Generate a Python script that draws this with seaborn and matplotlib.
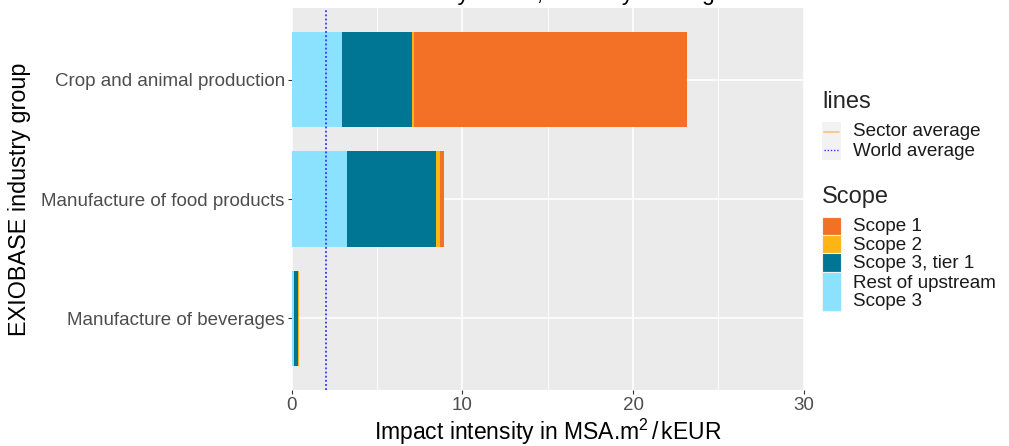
import matplotlib
matplotlib.use("Agg")
import matplotlib.pyplot as plt
import seaborn as sns
import pandas as pd
from matplotlib.patches import Rectangle
from matplotlib.lines import Line2D

# ---------------- data ----------------
industries = ["Crop and animal production",
              "Manufacture of food products",
              "Manufacture of beverages"]
rest_upstream = [2.93, 3.22, 0.12]
scope3_tier1 = [4.12, 5.23, 0.25]
scope2 = [0.12, 0.24, 0.04]
scope1 = [16.01, 0.21, 0.04]
world_average = 2.0
scope_labels = ["Scope 1", "Scope 2", "Scope 3, tier 1", "Rest of upstream\nScope 3"]
line_labels = ["Sector average", "World average"]
x_ticks = [0, 10, 20, 30]
x_minor = [5, 15, 25]
title_text = "Total biodiversity sector, intensity ranking"

# ---------------- style ----------------
c_s1 = "#F37027"
c_s2 = "#FDB515"
c_s3 = "#007694"
c_rest = "#8AE2FF"
c_sector = "#F9C27A"

sns.set_theme(style="darkgrid")
plt.rcParams["font.family"] = ["Liberation Sans", "DejaVu Sans"]
plt.rcParams["mathtext.fontset"] = "custom"
plt.rcParams["mathtext.rm"] = "Liberation Sans"
plt.rcParams["mathtext.it"] = "Liberation Sans:italic"

W, H = 1009, 446
fig = plt.figure(figsize=(W / 100, H / 100), dpi=100)
fig.patch.set_facecolor("white")
L, R, T, B = 291.7, 803.7, 8, 390
ax = fig.add_axes([L / W, 1 - B / H, (R - L) / W, (B - T) / H])
ax.set_facecolor("#EBEBEB")

df = pd.DataFrame({"industry": industries, "rest": rest_upstream, "t1": scope3_tier1,
                   "s2": scope2, "s1": scope1})
df["c1"] = df["rest"]
df["c2"] = df["c1"] + df["t1"]
df["c3"] = df["c2"] + df["s2"]
df["c4"] = df["c3"] + df["s1"]

for col, colr in [("c4", c_s1), ("c3", c_s2), ("c2", c_s3), ("c1", c_rest)]:
    sns.barplot(data=df, x=col, y="industry", order=industries, orient="h",
                color=colr, saturation=1, width=0.8, errorbar=None,
                linewidth=0, ax=ax)

ax.axvline(world_average, color="#3333FF", linestyle=(0, (1, 1.3)), lw=1.3, zorder=5)

ax.set_xlim(0, 30)
ax.set_ylim(2.6, -0.6)
ax.set_xticks(x_ticks)
ax.set_xticks(x_minor, minor=True)
ax.set_axisbelow(True)
ax.grid(which="major", axis="both", color="white", lw=1.2)
ax.grid(which="minor", axis="x", color="white", lw=0.6)
for s in ax.spines.values():
    s.set_visible(False)
ax.tick_params(axis="both", which="major", length=3, width=0.8, color="#333333",
               labelsize=13.5, labelcolor="#4D4D4D", pad=2, bottom=True, left=True)
ax.tick_params(axis="x", which="minor", length=0)
ax.set_xlabel("")
ax.set_ylabel("")

def fx(x):
    return x / W

def fy(y):
    return 1 - y / H

# axis titles
fig.text(fx((L + R) / 2), fy(432), r"Impact intensity in MSA.m$^{2}$$\,/\,$kEUR",
         ha="center", va="center", fontsize=16.5, color="black")
fig.text(fx(20), fy((T + B) / 2), "EXIOBASE industry group", rotation=90,
         ha="center", va="center", fontsize=16.8, color="black")

# title, cut off at the top edge as in the reference
fig.text(fx(300), fy(0), title_text, ha="left", va="baseline", fontsize=16.5, color="black")

# ---------------- legends ----------------
kx0, kx1 = 822, 841
lx = 852.7
fig.text(fx(kx0), fy(102), "lines", ha="left", va="center", fontsize=17)
fig.add_artist(Rectangle((fx(kx0), fy(160)), fx(kx1) - fx(kx0), fy(122) - fy(160),
                         transform=fig.transFigure, facecolor="#F2F2F2", edgecolor="none"))
fig.add_artist(Line2D([fx(kx0 + 2), fx(kx1 - 2)], [fy(131.5), fy(131.5)],
                      transform=fig.transFigure, color=c_sector, lw=1.2))
fig.add_artist(Line2D([fx(kx0 + 2), fx(kx1 - 2)], [fy(150.5), fy(150.5)],
                      transform=fig.transFigure, color="#3333FF", lw=1.0,
                      linestyle=(0, (1, 1.3))))
for lab, yy in zip(line_labels, [132, 151]):
    fig.text(fx(lx), fy(yy), lab, ha="left", va="center", fontsize=13.6, color="#1A1A1A")

fig.text(fx(kx0), fy(196.7), "Scope", ha="left", va="center", fontsize=17)
bounds = [(216.7, 235), (235, 253.3), (253.3, 272.3), (272.3, 311)]
centers = [226.7, 245, 263, 292.5]
for lab, colr, (y0, y1), yc in zip(scope_labels, [c_s1, c_s2, c_s3, c_rest], bounds, centers):
    fig.add_artist(Rectangle((fx(kx0), fy(y1)), fx(kx1) - fx(kx0), fy(y0) - fy(y1),
                             transform=fig.transFigure, facecolor=colr,
                             edgecolor="#F2F2F2", lw=0.8))
    fig.text(fx(lx), fy(yc), lab, ha="left", va="center", fontsize=13.6,
             color="#1A1A1A", linespacing=1.0)

fig.savefig("out.png", dpi=100, facecolor="white")
